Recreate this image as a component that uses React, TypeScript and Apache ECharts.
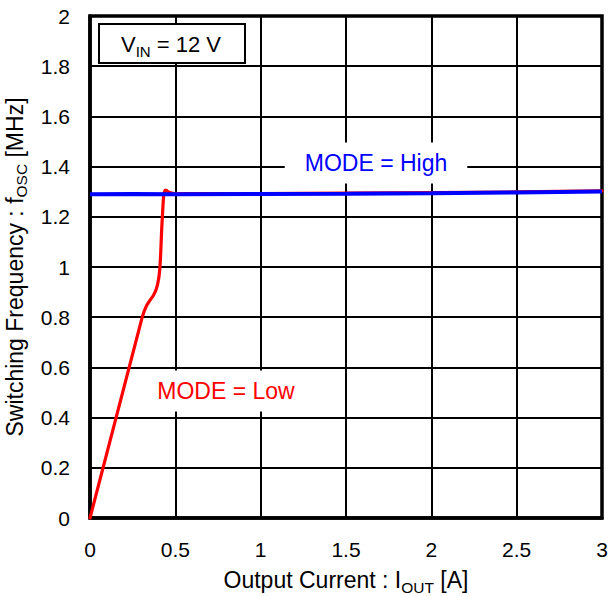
import React, { useEffect, useRef } from "react";
import * as echarts from "echarts";

const FONT = "'Liberation Sans', Arial, sans-serif";

// X axis: Output current [A]
const xMin = 0;
const xMax = 3;
const xStep = 0.5;
// Y axis: switching frequency [MHz]
const yMin = 0;
const yMax = 2;
const yStep = 0.2;

// MODE = Low (red)
const lowCurrent = [0, 0.306, 0.318, 0.333, 0.35, 0.37, 0.385, 0.396, 0.404, 0.41, 0.414, 0.417, 0.42, 0.424, 0.428, 0.431, 0.435, 0.44, 0.447, 0.46, 0.48, 0.5, 1.0, 1.5, 2.0, 2.5, 3.0];
const lowFreq = [0, 0.8, 0.825, 0.848, 0.866, 0.885, 0.905, 0.93, 0.96, 1.0, 1.05, 1.1, 1.15, 1.2, 1.25, 1.28, 1.297, 1.305, 1.305, 1.299, 1.294, 1.292, 1.292, 1.294, 1.296, 1.299, 1.303];

// MODE = High (blue)
const highCurrent = [0, 0.25, 0.5, 1.0, 1.5, 2.0, 2.5, 3.0];
const highFreq = [1.29, 1.291, 1.29, 1.291, 1.292, 1.294, 1.297, 1.301];

const richMain = { fontSize: 22, fontFamily: FONT, color: "#000", lineHeight: 30 };
const richSub = { fontSize: 15, fontFamily: FONT, color: "#000", lineHeight: 30, verticalAlign: "bottom" };
const titleMain = { fontSize: 23, fontFamily: FONT, color: "#000", lineHeight: 30 };
const titleSub = { fontSize: 15.5, fontFamily: FONT, color: "#000", lineHeight: 30, verticalAlign: "bottom" };

export default function App() {
  const ref = useRef<HTMLDivElement>(null);
  useEffect(() => {
    const chart = echarts.init(ref.current!, null, { renderer: "svg" });
    chart.setOption({
      animation: false,
      backgroundColor: "#fff",
      grid: {
        left: 90,
        right: 8,
        top: 16,
        bottom: 78,
        outerBoundsMode: "none",
        containLabel: false,
        show: true,
        borderColor: "#000",
        borderWidth: 3.5,
        backgroundColor: "transparent",
      },
      xAxis: {
        type: "value",
        min: xMin,
        max: xMax,
        interval: xStep,
        name: "{a|Output Current : I}{b|OUT}{a| [A]}",
        nameLocation: "middle",
        nameGap: 47,
        nameTextStyle: { rich: { a: titleMain, b: titleSub } },
        axisLine: { show: true, lineStyle: { color: "#000", width: 3.5 } },
        axisTick: { show: false },
        axisLabel: { color: "#000", fontSize: 21, fontFamily: FONT, margin: 21 },
        splitLine: { show: true, lineStyle: { color: "#000", width: 2 } },
      },
      yAxis: {
        type: "value",
        min: yMin,
        max: yMax,
        interval: yStep,
        name: "{a|Switching Frequency : f}{b|OSC}{a| [MHz]}",
        nameLocation: "middle",
        nameGap: 57,
        nameTextStyle: { rich: { a: titleMain, b: titleSub } },
        axisLine: { show: true, lineStyle: { color: "#000", width: 3.5 } },
        axisTick: { show: false },
        axisLabel: { color: "#000", fontSize: 21, fontFamily: FONT, margin: 20 },
        splitLine: { show: true, lineStyle: { color: "#000", width: 2 } },
      },
      series: [
        {
          name: "MODE = Low",
          type: "line",
          data: lowCurrent.map((x, i) => [x, lowFreq[i]]),
          showSymbol: false,
          smooth: false,
          clip: false,
          lineStyle: { color: "#ff0000", width: 3.2, join: "round", cap: "round" },
          z: 3,
        },
        {
          name: "MODE = High",
          type: "line",
          data: highCurrent.map((x, i) => [x, highFreq[i]]),
          showSymbol: false,
          clip: false,
          lineStyle: { color: "#0000ff", width: 4 },
          z: 4,
        },
      ],
      graphic: [
        {
          type: "rect",
          z: 50,
          shape: { x: 99, y: 24, width: 146, height: 39 },
          style: { fill: "#fff", stroke: "#000", lineWidth: 2 },
        },
        {
          type: "text",
          z: 51,
          x: 171,
          y: 44,
          style: {
            text: "{a|V}{b|IN}{a| = 12 V}",
            rich: { a: richMain, b: richSub },
            align: "center",
            verticalAlign: "middle",
          },
        },
        {
          type: "text",
          z: 50,
          x: 376,
          y: 163,
          style: {
            text: "MODE = High",
            fill: "#0000ff",
            fontSize: 23,
            fontFamily: FONT,
            backgroundColor: "#fff",
            padding: [9, 20],
            align: "center",
            verticalAlign: "middle",
          },
        },
        {
          type: "text",
          z: 50,
          x: 226,
          y: 391,
          style: {
            text: "MODE = Low",
            fill: "#ff0000",
            fontSize: 23,
            fontFamily: FONT,
            backgroundColor: "#fff",
            padding: [9, 20],
            align: "center",
            verticalAlign: "middle",
          },
        },
      ],
    });
    return () => chart.dispose();
  }, []);
  return (
    <div
      ref={ref}
      style={{ position: "absolute", left: 0, top: 0, width: 610, height: 596 }}
    />
  );
}
